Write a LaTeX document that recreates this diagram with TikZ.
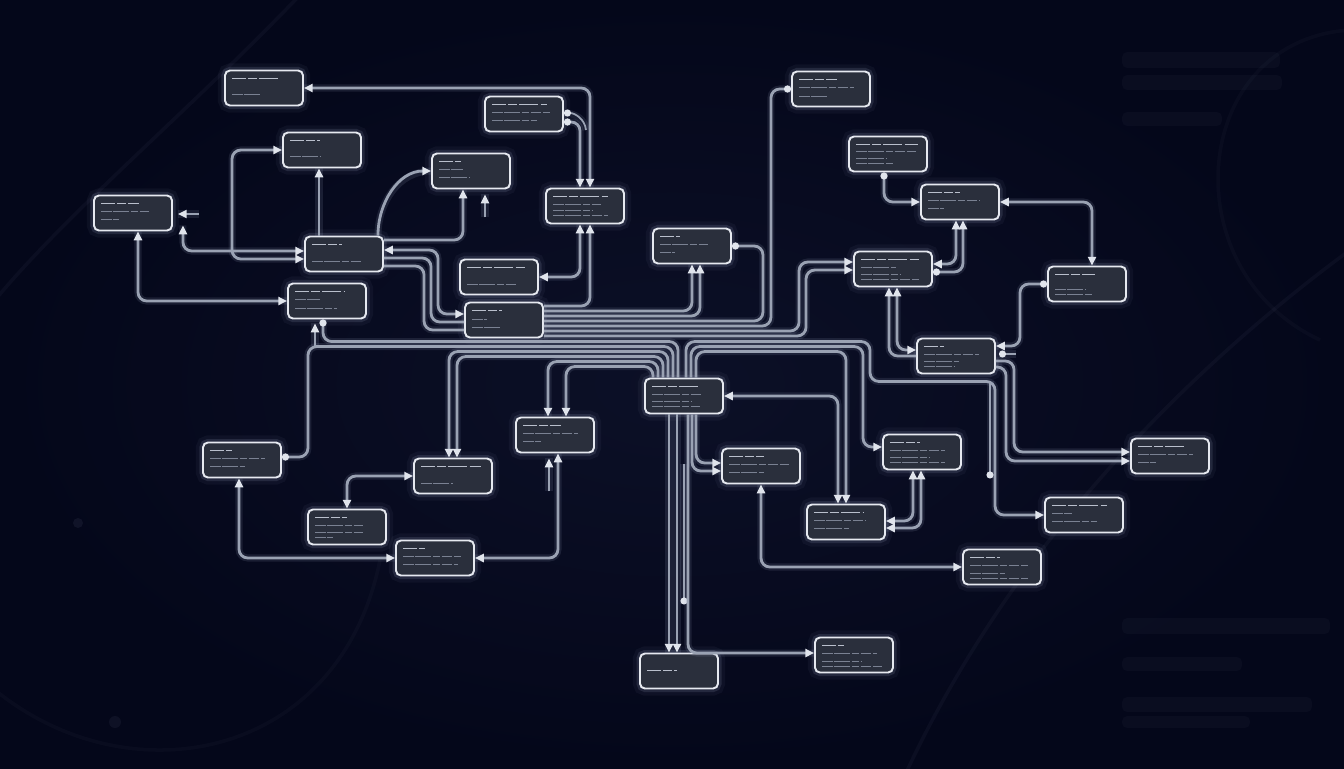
\documentclass[tikz,border=0pt]{standalone}
\usetikzlibrary{arrows.meta,calc}
\definecolor{bgc}{HTML}{04071A}
\definecolor{bgi}{HTML}{0C1027}
\definecolor{cardc}{HTML}{2A2F3C}
\definecolor{edgec}{HTML}{E6E9F0}
\definecolor{glowc}{HTML}{AEB9D6}
\definecolor{wirec}{HTML}{9AA2B3}
\definecolor{tipc}{HTML}{E0E4EC}
\definecolor{inkc}{HTML}{B9BFCC}
\definecolor{dimc}{HTML}{7A8192}

% a box with its (unreadable) lines of small print
\newcommand\card[5]{%
  \node[card] (#1) at (#2) {};
  \draw[head] ($(#1.north west)+(8,#3)$) -- ++(#4,0);
  \foreach \yy/\ll in {#5}
    \draw[body] ($(#1.north west)+(8,\yy)$) -- ++(\ll,0);
}

\begin{document}
\begin{tikzpicture}[x=0.02cm,y=-0.02cm,
  card/.style={draw=edgec,line width=1.1pt,fill=cardc,rounded corners=2.8pt,
    minimum width=1.56cm,minimum height=0.7cm,inner sep=0pt,
    preaction={draw=glowc,line width=8pt,opacity=.05},
    preaction={draw=glowc,line width=4pt,opacity=.14}},
  head/.style={inkc,line width=.8pt,dash pattern=on 8pt off 1.2pt on 5pt off 1.2pt on 11pt off 1.2pt},
  body/.style={dimc,line width=.55pt,dash pattern=on 6pt off 1pt on 9pt off 1pt on 4pt off 1pt},
  wire/.style={wirec,line width=1.6pt,rounded corners=5pt,
    preaction={draw=glowc,line width=4pt,opacity=.12,-}},
  thinwire/.style={wire,line width=1pt},
  deco/.style={glowc,line width=2pt,opacity=.045},
  >={Triangle[length=5pt,width=4.6pt,color=tipc]},
  dot/.tip={Circle[length=4pt,color=tipc]}]

\useasboundingbox (0,0) rectangle (1344,768);
\shade[inner color=bgi,outer color=bgc] (0,0) rectangle (1344,768);

% faint background
\draw[deco] (300,-5) .. controls (190,110) and (70,210) .. (-5,300);
\draw[deco,opacity=.03] (380,560) .. controls (340,760) and (130,800) .. (-5,690);
\draw[deco] (905,775) .. controls (1000,570) and (1160,390) .. (1350,250);
\draw[deco,opacity=.03] (1350,30) .. controls (1190,40) and (1170,270) .. (1320,340);
\foreach \a/\b/\c/\d in {1122/52/1280/68,1122/75/1282/90,1122/112/1222/126,
    1122/618/1330/634,1122/657/1242/671,1122/697/1312/712,1122/716/1250/728}
  \fill[glowc,opacity=.035,rounded corners=3pt] (\a,\b) rectangle (\c,\d);
\fill[glowc,opacity=.07] (78,523) circle[radius=5];
\fill[glowc,opacity=.06] (115,722) circle[radius=6];

% boxes
\card{n1}{264,88}{9}{48}{25/28}
\card{n2}{524,114}{9}{55}{17/58,25/45}
\card{n3}{322,150}{9}{30}{25/30}
\card{n4}{471,171}{9}{22}{17/24,25/30}
\card{n5}{133,213}{9}{38}{17/48,25/18}
\card{n6}{585,206}{9}{55}{17/48,23/40,28/55}
\card{n7}{344,254}{9}{30}{26/50}
\card{n8}{327,301}{9}{50}{17/25,26/42}
\card{n9}{499,277}{9}{58}{26/50}
\card{n10}{504,320}{9}{30}{18/15,26/28}
\card{n11}{692,246}{9}{20}{17/48,25/15}
\card{n12}{831,89}{9}{38}{17/55,26/28}
\card{n13}{888,154}{9}{62}{16/60,23/30,28/38}
\card{n14}{960,202}{9}{32}{17/52,25/16}
\card{n15}{893,269}{9}{58}{17/35,24/40,29/58}
\card{n16}{1087,284}{9}{40}{24/30,29/38}
\card{n17}{956,356}{9}{20}{17/55,24/35,29/30}
\card{n18}{684,396}{9}{48}{17/50,24/40,29/48}
\card{n19}{555,435}{9}{38}{17/55,25/18}
\card{n20}{242,460}{9}{22}{17/55,25/35}
\card{n21}{453,476}{9}{60}{26/32}
\card{n22}{761,466}{9}{35}{17/60,25/35}
\card{n23}{922,452}{9}{30}{17/55,24/40,29/55}
\card{n24}{1170,456}{9}{48}{17/55,25/18}
\card{n25}{1084,515}{9}{55}{17/20,25/45}
\card{n26}{846,522}{9}{50}{17/52,25/35}
\card{n27}{347,527}{9}{32}{17/48,24/48,29/18}
\card{n28}{435,558}{9}{22}{17/58,25/55}
\card{n29}{1002,567}{9}{30}{17/58,25/35,30/58}
\card{n30}{854,655}{9}{22}{17/55,25/40,30/60}
\card{n31}{679,671}{18}{30}{18/0}

% upper left
\draw[wire,<->] (n1.east) -| ($(n6.north)+(5,0)$);
\draw[wire,dot->] ($(n2.east)+(0,8)$) -| ($(n6.north)+(-5,0)$);
\coordinate (b1) at ($(n2.east)+(22,16)$);
\draw[thinwire,dot-] ($(n2.east)+(0,-1)$) to[out=0,in=95] (b1);
\draw[wire,<->] ($(n7.west)+(0,5)$) -| ($(n3.west)+(-50,0)$) -- (n3.west);
\draw[wire,<->] ($(n7.west)+(0,-3)$) -| ($(n5.south east)+(10,-6)$);
\draw[wire,<->] ($(n5.south)+(5,0)$) |- (n8.west);
\coordinate (e1) at ($(n5.east)+(26,1)$);
\draw[thinwire,<-] ($(n5.east)+(5,1)$) -- (e1);
\draw[wire,->] ($(n7.north)+(-25,0)$) -- ($(n3.south)+(-3,0)$);
\draw[wire,->] ($(n7.north east)+(-6,0)$) to[out=90,in=180] (n4.west);
\draw[wire,->] ($(n7.east)+(0,-14)$) -| ($(n4.south)+(-8,0)$);
\coordinate (d1) at ($(n4.south)+(14,28)$);
\draw[thinwire,->] (d1) -- ($(n4.south)+(14,5)$);
\coordinate (h1) at ($(n8.south)+(-12,27)$);
\draw[thinwire,->] (h1) -- ($(n8.south)+(-12,4)$);

% into the wide box
\draw[wire,<->] ($(n7.east)+(0,-4)$) -| ($(n10.west)+(-26,-6)$) -- ($(n10.west)+(0,-6)$);
\draw[wire] ($(n7.east)+(0,4)$) -| ($(n10.west)+(-33,2)$) -- ($(n10.west)+(0,2)$);
\draw[wire] ($(n7.east)+(0,12)$) -| ($(n10.west)+(-40,10)$) -- ($(n10.west)+(0,10)$);

% out of it, to the right
\draw[wire,->] ($(n10.east)+(0,-14)$) -| ($(n6.south)+(5,0)$);
\draw[wire,<->] ($(n6.south)+(-5,0)$) |- (n9.east);
\draw[wire,->] ($(n10.east)+(0,-9)$) -| (n11.south);
\draw[wire,->] ($(n10.east)+(0,-4)$) -| ($(n11.south)+(8,0)$);
\draw[wire,dot-] (n11.east) -| ($(n10.east)+(219,1)$) -- ($(n10.east)+(0,1)$);
\draw[wire,dot-] (n12.west) -| ($(n10.east)+(227,6)$) -- ($(n10.east)+(0,6)$);
\draw[wire,->] ($(n10.east)+(0,11)$) -| ($(n15.west)+(-54,-7)$) -- ($(n15.west)+(0,-7)$);
\draw[wire,->] ($(n10.east)+(0,16)$) -| ($(n15.west)+(-47,1)$) -- ($(n15.west)+(0,1)$);

% upper right
\draw[wire,dot->] ($(n13.south)+(-4,0)$) |- (n14.west);
\draw[wire,<->] (n14.east) -| ($(n16.north)+(5,0)$);
\draw[wire,<->] ($(n15.east)+(0,-5)$) -| ($(n14.south)+(-4,0)$);
\draw[wire,dot->] ($(n15.east)+(0,3)$) -| ($(n14.south)+(3,0)$);
\draw[wire,<->] ($(n15.south)+(4,0)$) |- ($(n17.west)+(0,-6)$);
\draw[wire,<-] ($(n15.south)+(-4,0)$) |- (n17.west);
\draw[wire,dot->] (n16.west) -| ($(n17.east)+(24,-10)$) -- ($(n17.east)+(0,-10)$);
\coordinate (q1) at ($(n17.east)+(20,-2)$);
\draw[thinwire,dot-] ($(n17.east)+(3,-2)$) -- (q1);
\draw[wire,->] ($(n17.east)+(0,5)$) -| ($(n24.west)+(-116,-4)$) -- ($(n24.west)+(0,-4)$);
\draw[wire,->] ($(n17.east)+(0,11)$) -| ($(n24.west)+(-124,5)$) -- ($(n24.west)+(0,5)$);

% the hub, upwards
\draw[wire,-dot] ($(n18.north)+(-6,0)$) -- ++(0,-36) -| ($(n8.south)+(-4,0)$);
\draw[wire,-dot] ($(n18.north)+(-11,0)$) -- ++(0,-31) -| ($(n20.east)+(26,-3)$) -- ($(n20.east)+(0,-3)$);
\draw[wire,->] ($(n18.north)+(-16,0)$) -- ++(0,-26) -| ($(n21.north)+(-4,0)$);
\draw[wire,->] ($(n18.north)+(-21,0)$) -- ++(0,-21) -| ($(n21.north)+(4,0)$);
\draw[wire,->] ($(n18.north)+(-26,0)$) -- ++(0,-16) -| ($(n19.north)+(-7,0)$);
\draw[wire,->] ($(n18.north)+(-31,0)$) -- ++(0,-11) -| ($(n19.north)+(11,0)$);
\draw[wire,->] ($(n18.north)+(2,0)$) -- ++(0,-36) -| ($(n17.south)+(-86,7)$) -| ($(n25.west)+(-49,0)$) -- (n25.west);
\draw[wire,->] ($(n18.north)+(7,0)$) -- ++(0,-31) -| ($(n23.west)+(-19,-5)$) -- ($(n23.west)+(0,-5)$);
\draw[wire,->] ($(n18.north)+(12,0)$) -- ++(0,-26) -| (n26.north);
\draw[wire,<->] (n18.east) -| ($(n26.north)+(-8,0)$);
\coordinate (q2) at ($(n17.south)+(34,7)$);
\coordinate (q3) at ($(n17.south)+(34,104)$);
\draw[thinwire,-dot] (q2) -- (q3);
\draw[wire,<->] ($(n26.east)+(0,-1)$) -| ($(n23.south)+(-9,0)$);
\draw[wire,<->] ($(n26.east)+(0,6)$) -| ($(n23.south)+(-1,0)$);

% the hub, downwards
\draw[wire,->] ($(n18.south)+(-15,0)$) -- ($(n31.north)+(-10,0)$);
\draw[wire,->] ($(n18.south)+(-7,0)$) -- ($(n31.north)+(-2,0)$);
\coordinate (r1) at ($(n18.south)+(0,50)$);
\coordinate (r2) at ($(n18.south)+(0,190)$);
\draw[thinwire,-dot] (r1) -- (r2);
\draw[wire,->] ($(n18.south)+(4,0)$) |- ($(n30.west)+(0,-2)$);
\draw[wire,->] ($(n18.south)+(8,0)$) |- ($(n22.west)+(0,5)$);
\draw[wire,->] ($(n18.south)+(12,0)$) |- ($(n22.west)+(0,-3)$);
\draw[wire,<->] (n22.south) |- (n29.west);

% lower left
\draw[wire,<->] ($(n20.south)+(-3,0)$) |- (n28.west);
\draw[wire,<->] ($(n19.south)+(3,0)$) |- (n28.east);
\coordinate (s1) at ($(n19.south)+(-6,38)$);
\draw[thinwire,->] (s1) -- ($(n19.south)+(-6,5)$);
\draw[wire,<->] (n21.west) -| (n27.north);
\end{tikzpicture}
\end{document}
